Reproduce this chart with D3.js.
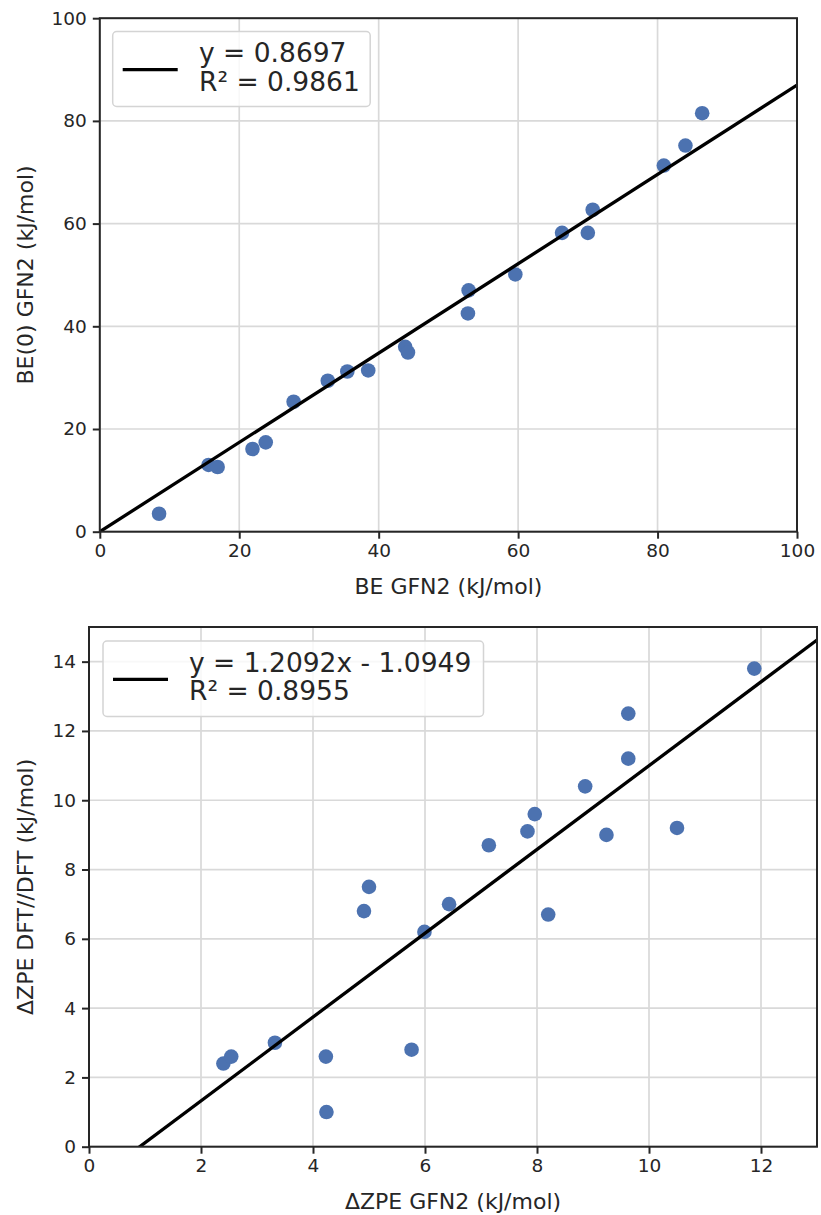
<!DOCTYPE html>
<html>
<head>
<meta charset="utf-8">
<script src="https://cdn.jsdelivr.net/npm/d3@7"></script>
<style>
  html, body { margin: 0; padding: 0; background: #fff; }
  svg { display: block; font-family: "DejaVu Sans", sans-serif; }
</style>
</head>
<body>
<svg id="chart" width="821" height="1215"></svg>
<script>
// ---- Data ----
const beGfn2 = [8.5, 15.6, 16.9, 21.9, 23.8, 27.8, 32.7, 35.5, 38.5, 43.8, 44.2, 52.9, 52.8, 59.6, 66.3, 70.0, 70.7, 80.9, 84.0, 86.4];
const be0Gfn2 = [3.5, 13.0, 12.6, 16.1, 17.4, 25.3, 29.4, 31.2, 31.4, 36.0, 34.9, 47.0, 42.5, 50.1, 58.2, 58.2, 62.7, 71.3, 75.2, 81.5];
const topXTicks = [0, 20, 40, 60, 80, 100];
const topYTicks = [0, 20, 40, 60, 80, 100];
const topFit = [0.8697, 0];            // slope, intercept
const topLegend = ["y = 0.8697", "R\u00B2 = 0.9861"];

const zpeGfn2 = [2.40, 2.54, 3.32, 4.23, 4.24, 4.91, 5.00, 5.76, 5.99, 6.43, 7.14, 7.83, 7.96, 8.20, 8.86, 9.24, 9.63, 9.63, 10.50, 11.88];
const zpeDft = [2.4, 2.6, 3.0, 2.6, 1.0, 6.8, 7.5, 2.8, 6.2, 7.0, 8.7, 9.1, 9.6, 6.7, 10.4, 9.0, 12.5, 11.2, 9.2, 13.8];
const botXTicks = [0, 2, 4, 6, 8, 10, 12];
const botYTicks = [0, 2, 4, 6, 8, 10, 12, 14];
const botFit = [1.2092, -1.0949];
const botLegend = ["y = 1.2092x - 1.0949", "R\u00B2 = 0.8955"];

// ---- Drawing ----
const svg = d3.select("#chart");
const TEXT = "#262626";
const POINT = "#4c72b0";
const GRID = "#d9d9d9";

function panel(cfg) {
  const x = d3.scaleLinear().domain(cfg.xDomain).range([cfg.left, cfg.right]);
  const y = d3.scaleLinear().domain(cfg.yDomain).range([cfg.bottom, cfg.top]);
  const g = svg.append("g");
  const clipId = "clip" + cfg.id;
  svg.append("clipPath").attr("id", clipId).append("rect")
    .attr("x", cfg.left).attr("y", cfg.top)
    .attr("width", cfg.right - cfg.left).attr("height", cfg.bottom - cfg.top);

  // grid
  g.append("g").selectAll("line").data(cfg.xTicks).join("line")
    .attr("x1", d => x(d)).attr("x2", d => x(d))
    .attr("y1", cfg.top).attr("y2", cfg.bottom)
    .attr("stroke", GRID).attr("stroke-width", 1.7);
  g.append("g").selectAll("line").data(cfg.yTicks).join("line")
    .attr("y1", d => y(d)).attr("y2", d => y(d))
    .attr("x1", cfg.left).attr("x2", cfg.right)
    .attr("stroke", GRID).attr("stroke-width", 1.7);

  // points
  const pts = cfg.xs.map((v, i) => [v, cfg.ys[i]]);
  g.append("g").selectAll("circle").data(pts).join("circle")
    .attr("cx", d => x(d[0])).attr("cy", d => y(d[1]))
    .attr("r", 7.3).attr("fill", POINT);

  // regression line
  const fx = cfg.xDomain;
  const line = d3.line().x(d => x(d)).y(d => y(cfg.fit[0] * d + cfg.fit[1]));
  g.append("path").datum(fx).attr("d", line)
    .attr("clip-path", `url(#${clipId})`)
    .attr("fill", "none").attr("stroke", "#000").attr("stroke-width", 3.3);

  // axes
  const xAxis = d3.axisBottom(x).tickValues(cfg.xTicks).tickSize(7).tickPadding(5).tickSizeOuter(0);
  const yAxis = d3.axisLeft(y).tickValues(cfg.yTicks).tickSize(7).tickPadding(6).tickSizeOuter(0);
  const gx = g.append("g").attr("transform", `translate(0,${cfg.bottom})`).call(xAxis);
  const gy = g.append("g").attr("transform", `translate(${cfg.left},0)`).call(yAxis);
  [gx, gy].forEach(a => {
    a.select(".domain").remove();
    a.selectAll(".tick line").attr("stroke", TEXT).attr("stroke-width", 2);
    a.selectAll(".tick text").attr("fill", TEXT)
      .style("font-size", "18.5px").style("font-family", "DejaVu Sans");
  });

  // spines
  g.append("rect").attr("x", cfg.left).attr("y", cfg.top)
    .attr("width", cfg.right - cfg.left).attr("height", cfg.bottom - cfg.top)
    .attr("fill", "none").attr("stroke", TEXT).attr("stroke-width", 2);

  // axis labels
  g.append("text").attr("x", (cfg.left + cfg.right) / 2).attr("y", cfg.xLabelY)
    .attr("text-anchor", "middle").attr("fill", TEXT)
    .style("font-size", "22px").text(cfg.xLabel);
  g.append("text")
    .attr("transform", `translate(${cfg.yLabelX},${(cfg.top + cfg.bottom) / 2}) rotate(-90)`)
    .attr("text-anchor", "middle").attr("fill", TEXT)
    .style("font-size", "22px").text(cfg.yLabel);

  // legend
  const L = cfg.legend;
  const lg = g.append("g");
  lg.append("rect").attr("x", L.x).attr("y", L.y).attr("width", L.w).attr("height", L.h)
    .attr("rx", 4).attr("fill", "#fff").attr("fill-opacity", 0.8)
    .attr("stroke", "#d4d4d4").attr("stroke-width", 1.5);
  lg.append("line").attr("x1", L.x + 10).attr("x2", L.x + 65)
    .attr("y1", L.lineY).attr("y2", L.lineY)
    .attr("stroke", "#000").attr("stroke-width", 3.3);
  lg.selectAll("text").data(cfg.legendText).join("text")
    .attr("x", L.textX).attr("y", (d, i) => L.baseY + i * 28.7)
    .attr("fill", TEXT).style("font-size", "26.5px").text(d => d);
}

panel({
  id: "top",
  xs: beGfn2, ys: be0Gfn2,
  xDomain: [0, 100], yDomain: [0, 100],
  xTicks: topXTicks, yTicks: topYTicks,
  left: 99.8, right: 797, top: 18.2, bottom: 531.7,
  fit: topFit, legendText: topLegend,
  xLabel: "BE GFN2 (kJ/mol)", yLabel: "BE(0) GFN2 (kJ/mol)",
  xLabelY: 593.5, yLabelX: 33,
  legend: { x: 112.7, y: 31.5, w: 257.5, h: 75, lineY: 69.7, textX: 199, baseY: 62.3 }
});

panel({
  id: "bot",
  xs: zpeGfn2, ys: zpeDft,
  xDomain: [0, 13], yDomain: [0, 15],
  xTicks: botXTicks, yTicks: botYTicks,
  left: 89, right: 817, top: 627, bottom: 1146.7,
  fit: botFit, legendText: botLegend,
  xLabel: "\u0394ZPE GFN2 (kJ/mol)", yLabel: "\u0394ZPE DFT//DFT (kJ/mol)",
  xLabelY: 1208.5, yLabelX: 33,
  legend: { x: 103, y: 641, w: 380.5, h: 75.5, lineY: 679.3, textX: 189, baseY: 671.7 }
});
</script>
</body>
</html>
